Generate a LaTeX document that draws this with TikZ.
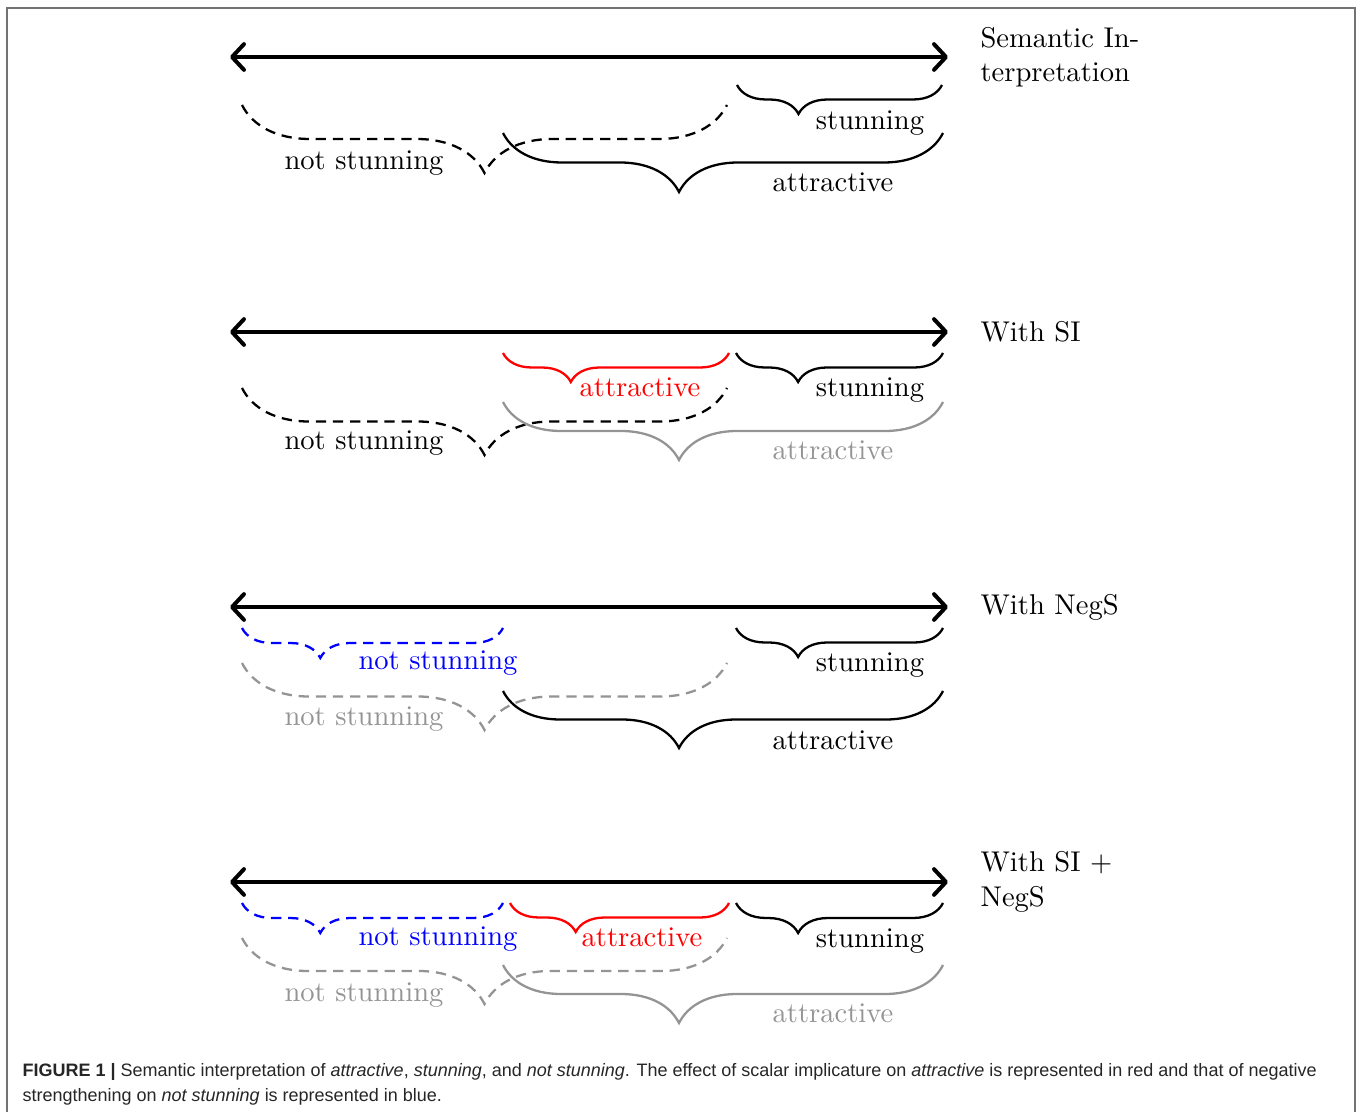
\documentclass[tikz,border=0pt]{standalone}
\usepackage{fontspec}
\newfontfamily\capfont{Liberation Sans}
\usetikzlibrary{decorations.pathreplacing,arrows.meta}
\definecolor{lgray}{gray}{0.58}
\definecolor{framecol}{gray}{0.45}
\definecolor{captxt}{gray}{0.15}
\begin{document}
\begin{tikzpicture}[x=0.35pt,y=-0.35pt,
  axis/.style={line width=1.4pt,
    {Straight Barb[length=4.2pt,width=9pt,round]}-{Straight Barb[length=4.2pt,width=9pt,round]}},
  brc/.style 2 args={decorate,line width=0.8pt,
    decoration={brace,mirror,amplitude=#1*0.35pt,aspect=#2}},
  dsh/.style={dash pattern=on 3.6pt off 2.4pt},
  lbl/.style={anchor=base,inner sep=0pt},
  ttl/.style={anchor=west,inner sep=0pt,align=left},
  captext/.style={anchor=base west,inner sep=0pt,text=captxt,
    font=\capfont\fontsize{6.3}{7.5}\selectfont}]
\useasboundingbox (0,0) rectangle (1360,1112);
% frame
\draw[framecol,line width=0.7pt] (7,1112) -- (7,8) -- (1355,8) -- (1355,1112);

% ---------------- Panel 1
\coordinate (p1l) at (230,57); \coordinate (p1r) at (948,57);
\draw[axis] (p1l) -- (p1r);
\node[ttl] (t1) at (980,57) {Semantic In-\\terpretation};
\coordinate (s1a) at (737,85); \coordinate (s1b) at (942,85);
\draw[brc={29}{0.3}] (s1a) -- (s1b);
\node[lbl] (ls1) at (870,130) {stunning};
\coordinate (n1a) at (242,105); \coordinate (n1b) at (727,105);
\draw[brc={68}{0.5},dsh] (n1a) -- (n1b);
\node[lbl] (ln1) at (364,170) {not stunning};
\coordinate (a1a) at (503,133); \coordinate (a1b) at (943,133);
\draw[brc={59}{0.4}] (a1a) -- (a1b);
\node[lbl] (la1) at (833,192) {attractive};

% ---------------- Panel 2
\coordinate (p2l) at (230,332); \coordinate (p2r) at (948,332);
\draw[axis] (p2l) -- (p2r);
\node[ttl] (t2) at (980,332) {With SI};
\coordinate (r2a) at (503,353); \coordinate (r2b) at (729,353);
\draw[brc={29}{0.3},red] (r2a) -- (r2b);
\node[lbl,text=red] (lr2) at (640,397) {attractive};
\coordinate (s2a) at (736,353); \coordinate (s2b) at (943,353);
\draw[brc={29}{0.3}] (s2a) -- (s2b);
\node[lbl] (ls2) at (870,397) {stunning};
\coordinate (n2a) at (242,388); \coordinate (n2b) at (727,388);
\draw[brc={67}{0.5},dsh] (n2a) -- (n2b);
\node[lbl] (ln2) at (364,450) {not stunning};
\coordinate (a2a) at (503,402); \coordinate (a2b) at (943,402);
\draw[brc={58}{0.4},lgray] (a2a) -- (a2b);
\node[lbl,text=lgray] (la2) at (833,460) {attractive};

% ---------------- Panel 3
\coordinate (p3l) at (230,607); \coordinate (p3r) at (948,607);
\draw[axis] (p3l) -- (p3r);
\node[ttl] (t3) at (980,607) {With NegS};
\coordinate (b3a) at (242,628); \coordinate (b3b) at (503,628);
\draw[brc={30}{0.3},dsh,blue] (b3a) -- (b3b);
\node[lbl,text=blue] (lb3) at (438,670) {not stunning};
\coordinate (s3a) at (736,628); \coordinate (s3b) at (943,628);
\draw[brc={29}{0.3}] (s3a) -- (s3b);
\node[lbl] (ls3) at (870,671) {stunning};
\coordinate (n3a) at (242,663); \coordinate (n3b) at (727,663);
\draw[brc={67}{0.5},dsh,lgray] (n3a) -- (n3b);
\node[lbl,text=lgray] (ln3) at (364,726) {not stunning};
\coordinate (a3a) at (503,691); \coordinate (a3b) at (943,691);
\draw[brc={57}{0.4}] (a3a) -- (a3b);
\node[lbl] (la3) at (833,749) {attractive};

% ---------------- Panel 4
\coordinate (p4l) at (230,882); \coordinate (p4r) at (948,882);
\draw[axis] (p4l) -- (p4r);
\node[ttl] (t4) at (980,882) {With SI +\\NegS};
\coordinate (b4a) at (242,903); \coordinate (b4b) at (503,903);
\draw[brc={30}{0.3},dsh,blue] (b4a) -- (b4b);
\node[lbl,text=blue] (lb4) at (438,945) {not stunning};
\coordinate (r4a) at (510,903); \coordinate (r4b) at (729,903);
\draw[brc={29}{0.3},red] (r4a) -- (r4b);
\node[lbl,text=red] (lr4) at (642,946) {attractive};
\coordinate (s4a) at (736,903); \coordinate (s4b) at (943,903);
\draw[brc={30}{0.3}] (s4a) -- (s4b);
\node[lbl] (ls4) at (870,947) {stunning};
\coordinate (n4a) at (242,938); \coordinate (n4b) at (727,938);
\draw[brc={66}{0.5},dsh,lgray] (n4a) -- (n4b);
\node[lbl,text=lgray] (ln4) at (364,1001) {not stunning};
\coordinate (a4a) at (503,965); \coordinate (a4b) at (943,965);
\draw[brc={58}{0.4},lgray] (a4a) -- (a4b);
\node[lbl,text=lgray] (la4) at (833,1022) {attractive};

% ---------------- Caption
\node[captext] (c1) at (22,1076) {\textbf{FIGURE 1 |} Semantic interpretation of \textit{attractive}, \textit{stunning}, and \textit{not stunning}. The effect of scalar implicature on \textit{attractive} is represented in red and that of negative};
\node[captext] (c2) at (22,1101) {strengthening on \textit{not stunning} is represented in blue.};
\end{tikzpicture}
\end{document}
